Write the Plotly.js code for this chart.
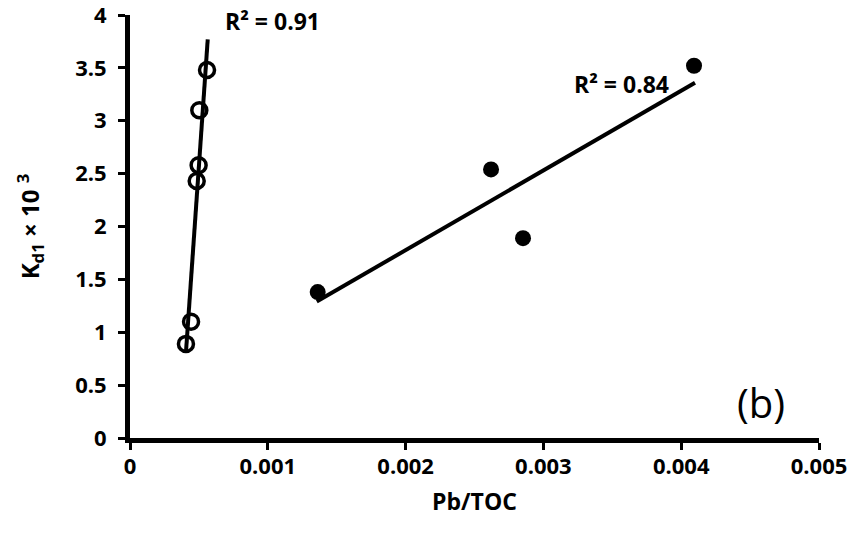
<!DOCTYPE html>
<html>
<head>
<meta charset="utf-8">
<script src="https://cdn.plot.ly/plotly-3.0.1.min.js"></script>
<style>html,body{margin:0;padding:0;background:#fff;}#chart{width:863px;height:542px;}</style>
</head>
<body>
<div id="chart"></div>
<script>
// Open-circle series
var openX = [0.000406, 0.000443, 0.000484, 0.000498, 0.000503, 0.000559];
var openY = [0.89, 1.10, 2.43, 2.58, 3.10, 3.48];
// Open-series trendline endpoints (as read)
var openTrendX = [0.000406, 0.000564];
var openTrendY = [0.81, 3.77];

// Filled-circle series
var filledX = [0.001362, 0.002620, 0.002852, 0.004093];
var filledY = [1.38, 2.54, 1.89, 3.52];
// Filled-series trendline endpoints (as read)
var filledTrendX = [0.001355, 0.004100];
var filledTrendY = [1.29, 3.36];

var xTicks = [0, 0.001, 0.002, 0.003, 0.004, 0.005];
var xTickLabels = ['0', '0.001', '0.002', '0.003', '0.004', '0.005'];
var yTicks = [0, 0.5, 1, 1.5, 2, 2.5, 3, 3.5, 4];
var yTickLabels = ['0', '0.5', '1', '1.5', '2', '2.5', '3', '3.5', '4'];

var labels = {
  r2open: 'R² = 0.91',
  r2filled: 'R² = 0.84',
  panel: '(b)',
  xTitle: 'Pb/TOC',
  yTitle: 'K<sub>d1</sub> × 10 <sup>3</sup>'
};

function b(s) { return '<b>' + s + '</b>'; }

var FONT = '"Open Sans", "Noto Sans", "Liberation Sans", sans-serif';

var traces = [
  {x: openTrendX, y: openTrendY, mode: 'lines', line: {color: '#000', width: 4}, hoverinfo: 'skip', showlegend: false},
  {x: filledTrendX, y: filledTrendY, mode: 'lines', line: {color: '#000', width: 4}, hoverinfo: 'skip', showlegend: false},
  {x: openX, y: openY, mode: 'markers', marker: {symbol: 'circle-open', size: 15, color: '#000', line: {color: '#000', width: 3.5}}, showlegend: false},
  {x: filledX, y: filledY, mode: 'markers', marker: {symbol: 'circle', size: 16, color: '#000'}, showlegend: false}
];

var layout = {
  width: 863, height: 542,
  margin: {l: 130, r: 44, t: 15, b: 104, pad: 0},
  paper_bgcolor: '#fff', plot_bgcolor: '#fff',
  font: {family: FONT, color: '#000'},
  showlegend: false,
  xaxis: {
    range: [0, 0.005], tickvals: xTicks, ticktext: xTickLabels.map(b),
    showgrid: false, zeroline: false,
    showline: true, linecolor: '#000', linewidth: 5,
    ticks: 'outside', ticklen: 7, tickwidth: 3, tickcolor: '#000',
    tickfont: {family: FONT, size: 22, color: '#000', weight: 700},
    ticklabelstandoff: -2, ticklabeloverflow: 'allow',
    title: {text: b(labels.xTitle), font: {family: FONT, size: 23, color: '#000', weight: 700}, standoff: 16}
  },
  yaxis: {
    range: [0, 4], tickvals: yTicks, ticktext: yTickLabels.map(b),
    showgrid: false, zeroline: false,
    showline: true, linecolor: '#000', linewidth: 5,
    ticks: 'outside', ticklen: 7, tickwidth: 3, tickcolor: '#000',
    tickfont: {family: FONT, size: 22, color: '#000', weight: 700},
    ticklabelstandoff: 7, ticklabeloverflow: 'allow',
    title: {text: b(labels.yTitle), font: {family: FONT, size: 24, color: '#000', weight: 700}, standoff: 30}
  },
  annotations: [
    {x: 0.001034, y: 3.94, xref: 'x', yref: 'y', text: b(labels.r2open), showarrow: false,
     font: {family: FONT, size: 23, color: '#000', weight: 700}, xanchor: 'center', yanchor: 'middle'},
    {x: 0.003567, y: 3.35, xref: 'x', yref: 'y', text: b(labels.r2filled), showarrow: false,
     font: {family: FONT, size: 23, color: '#000', weight: 700}, xanchor: 'center', yanchor: 'middle'},
    {x: 0.00458, y: 0.34, xref: 'x', yref: 'y', text: labels.panel, showarrow: false,
     font: {family: FONT, size: 40, color: '#000'}, xanchor: 'center', yanchor: 'middle'}
  ]
};

Plotly.newPlot('chart', traces, layout, {displayModeBar: false, staticPlot: true});
</script>
</body>
</html>
